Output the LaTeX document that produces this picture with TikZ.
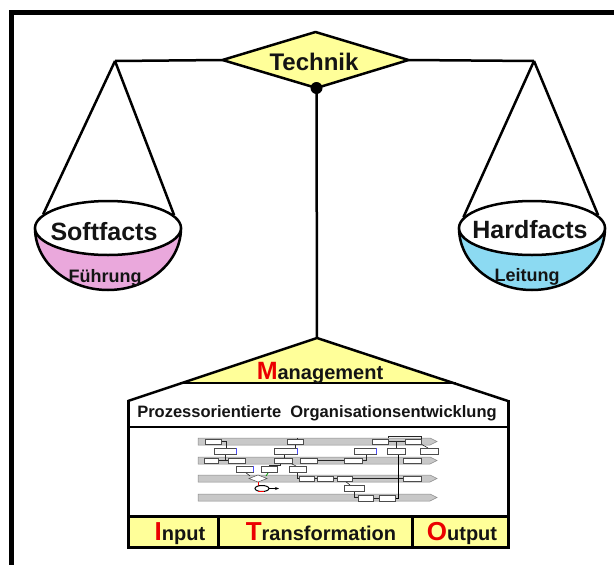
\documentclass[tikz,border=0pt]{standalone}
\usepackage{fontspec}
\setmainfont{Liberation Sans}
\usetikzlibrary{shapes.geometric,arrows.meta}
\definecolor{techyellow}{RGB}{255,255,153}
\definecolor{panpink}{RGB}{234,168,220}
\definecolor{panblue}{RGB}{140,218,242}
\definecolor{barfill}{RGB}{200,200,200}
\definecolor{bargray}{RGB}{140,140,140}
\definecolor{bigred}{RGB}{235,0,0}
\definecolor{txtdark}{RGB}{20,20,20}
\newcommand\myfs[1]{\fontsize{#1}{#1}\selectfont\bfseries}
\begin{document}
\begin{tikzpicture}[x=1pt,y=-1pt,
  heavy/.style={line width=2.5pt,line join=round},
  boxline/.style={line width=3pt,line join=miter},
  lbl/.style={inner sep=0pt,anchor=base,text=txtdark},
  pan/.style={ellipse,draw,line width=2.5pt,fill=white,inner sep=0pt,minimum width=146pt,minimum height=54pt},
  bar/.style={fill=barfill,draw=bargray,line width=0.5pt},
  minibox/.style={fill=white,draw=black!70,line width=0.5pt},
  miniline/.style={draw=black!85,line width=0.6pt}]
\clip (0,0) rectangle (614,565);
\fill[white] (0,0) rectangle (614,565);
% frame
\draw[line width=5pt] (11,12.5) rectangle (660,620);
% coordinates of the balance
\coordinate (lbeam) at (115,61);
\coordinate (rbeam) at (534,61);
\coordinate (tw) at (222.5,60);
\coordinate (te) at (408.5,60);
\coordinate (tn) at (315.5,32);
\coordinate (ts) at (316.5,88);
\coordinate (apex) at (317,338);
% beam
\draw[heavy] (lbeam) -- (tw);
\draw[heavy] (te) -- (rbeam);
% post
\draw[heavy] (ts) -- (apex);
% diamond
\draw[heavy,fill=techyellow] (tw) -- (tn) -- (te) -- (ts) -- cycle;
\node[lbl,font=\myfs{24}] (techtext) at (314,70) {Technik};
\fill (ts) circle (6pt);
% left pan
\draw[heavy,fill=panpink] (35,228) arc[start angle=180,end angle=360,x radius=73,y radius=-62] -- cycle;
\node[pan] (softpan) at (108,228) {};
\draw[heavy] (lbeam) -- (softpan.168);
\draw[heavy] (lbeam) -- (softpan.11);
\node[lbl,font=\myfs{25}] (softtext) at (104,240) {Softfacts};
\node[lbl,font=\myfs{18}] (fuehr) at (105,282) {Führung};
% right pan
\draw[heavy,fill=panblue] (459,228) arc[start angle=180,end angle=360,x radius=73,y radius=-62] -- cycle;
\node[pan] (hardpan) at (532,228) {};
\draw[heavy] (rbeam) -- (hardpan.171);
\draw[heavy] (rbeam) -- (hardpan.11);
\node[lbl,font=\myfs{25}] (hardtext) at (530,238) {Hardfacts};
\node[lbl,font=\myfs{18}] (leit) at (527,281) {Leitung};
% house
\fill[techyellow] (180,383) -- (apex) -- (456,383) -- cycle;
\fill[white] (128,400) -- (180,383) -- (456,383) -- (508,400) -- (508,516) -- (128,516) -- cycle;
\fill[techyellow] (128,516) rectangle (508,547);
\draw[heavy] (128,401) -- (apex) -- (508,401);
\draw[heavy] (180,383) -- (456,383);
\draw[boxline] (128,400) -- (128,547) -- (508,547) -- (508,400);
\draw[heavy] (128,427) -- (508,427);
\draw[boxline] (128,516) -- (508,516);
\draw[boxline] (218,516) -- (218,547);
\draw[boxline] (412,516) -- (412,547);
\node[lbl] (mgmt) at (320,379) {{\myfs{25}\color{bigred}M}{\myfs{20}anagement}};
\node[lbl,font=\myfs{16.5}] (poe) at (317,417) {Prozessorientierte\ \ Organisationsentwicklung};
\node[lbl] (inp) at (180,540) {{\myfs{26}\color{bigred}I}{\myfs{20}nput}};
\node[lbl] (trans) at (321,540) {{\myfs{26}\color{bigred}T}{\myfs{20}ransformation}};
\node[lbl] (outp) at (462,540) {{\myfs{26}\color{bigred}O}{\myfs{20}utput}};
% mini process diagram
\foreach \ya/\yb in {438/445,457/464,475/482,494/501}{
  \draw[bar] (198,\ya) -- (430,\ya) -- (437,{(\ya+\yb)/2}) -- (430,\yb) -- (198,\yb) -- cycle;
}
% connectors of the mini diagram
\draw[miniline] (221,441.5) -- (226,441.5) -- (226,448);
\draw[miniline] (225,454) -- (225,460.5);
\draw[miniline] (218,460.5) -- (228,460.5);
\draw[miniline] (295,444) -- (295,448);
\draw[miniline] (284,454) -- (284,458);
\draw[miniline] (280,463) -- (280,465) -- (269,465) -- (269,466);
\draw[miniline] (290,463) -- (296,466);
\draw[miniline] (245,472) -- (250,476);
\draw[miniline] (297,472) -- (297,478.5) -- (299,478.5);
\draw[miniline] (314,478.5) -- (317,478.5);
\draw[miniline] (333,478.5) -- (337,478.5);
\draw[miniline] (352,478.5) -- (403,478.5);
\draw[miniline] (345,481) -- (350,485);
\draw[miniline] (354,491) -- (354,497) -- (358,497);
\draw[miniline] (373,498) -- (379,498);
\draw[miniline] (317,460.5) -- (344,460.5);
\draw[miniline] (362,460.5) -- (366,460.5) -- (366,454);
\draw[miniline] (388,441.5) -- (405,441.5);
\draw[miniline] (396,441.5) -- (396,448);
\draw[miniline] (388,438) -- (388,436) -- (421,436) -- (421,441.5);
\draw[miniline] (421,444) -- (428,448);
\draw[miniline] (297,441.5) -- (297,438) ;
\draw[line width=0.9pt,-{Stealth[length=3pt]}] (395,498) -- (398,498) -- (398,452);
\foreach \xa/\xb/\ya/\yb in {
  205/221/439/444, 287/303/439/444, 372/388/439/444, 405/421/439/444,
  214/236/448/454, 274/297/448/454, 354/376/448/454, 387/405/448/454, 420/438/448/454,
  204/218/458/463, 228/245/458/463, 274/292/458/463, 300/317/458/463, 344/362/458/463, 403/421/458/463,
  236/253/466/472, 261/277/466/472, 289/306/466/472,
  299/314/476/481, 317/333/476/481, 337/352/476/481, 403/421/476/481,
  344/364/485/491,
  358/373/495/501, 379/395/495/501}{
  \draw[minibox] (\xa,\ya) rectangle (\xb,\yb);
}
\foreach \xb/\ya/\yb in {236/448/454, 297/448/454, 376/448/454, 253/466/472}{
  \draw[blue!70,line width=0.8pt] (\xb,\ya) -- (\xb,\yb);
}
\draw[minibox] (249,478.5) -- (258,475) -- (267,478.5) -- (258,482) -- cycle;
\draw[green!60!black,line width=0.8pt] (266,476) -- (268,473);
\draw[red,line width=0.8pt] (258,482) -- (258,486);
\draw[fill=white,line width=1pt] (262,488.5) ellipse[x radius=7,y radius=3];
\draw[red,line width=0.8pt] (258,491) -- (264,491);
\draw[line width=1pt,-{Stealth[length=4pt]}] (269,488.5) -- (279,488.5);
\end{tikzpicture}
\end{document}
